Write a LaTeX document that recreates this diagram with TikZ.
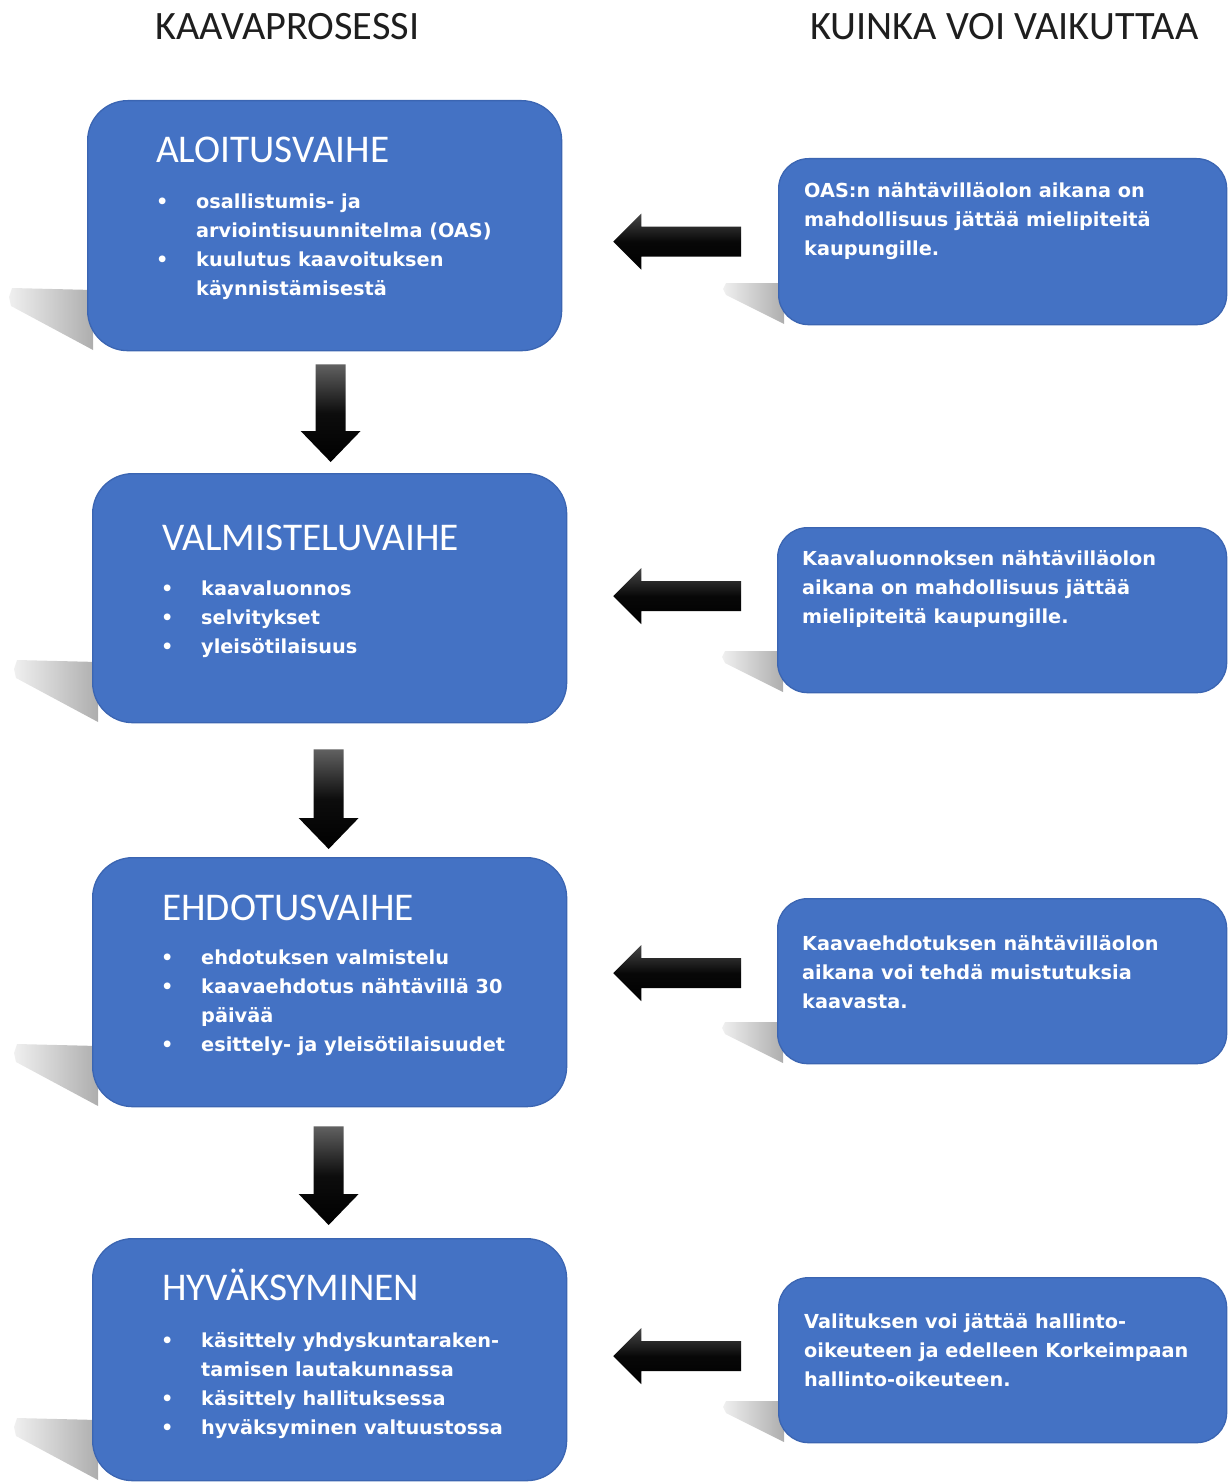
\documentclass[tikz,border=0pt]{standalone}
\usepackage{fontspec}
\setmainfont{DejaVu Sans}
\newfontfamily\headfont{Carlito}
\usetikzlibrary{calc}
\definecolor{boxblue}{HTML}{4472C4}
\definecolor{boxedge}{HTML}{3B65B2}
\definecolor{titlegray}{HTML}{1E1E1E}
\newcommand\blkdown[2]{%
 \shade[top color=black!62, bottom color=black, middle color=black!95] let \p1=(#1), \p2=(#2) in
 ({\x2-15pt},\y1) -- ({\x2+15pt},\y1) -- ({\x2+15pt},{\y2+31pt}) -- ({\x2+30pt},{\y2+31pt}) -- (\x2,\y2)
 -- ({\x2-30pt},{\y2+31pt}) -- ({\x2-15pt},{\y2+31pt}) -- cycle;}
\newcommand\blkleft[2]{%
 \shade[top color=black!72, bottom color=black, middle color=black!97] let \p1=(#1), \p2=(#2) in
 (\x1,{\y2+15pt}) -- ({\x2+28pt},{\y2+15pt}) -- ({\x2+28pt},{\y2+28pt}) -- (\x2,\y2)
 -- ({\x2+28pt},{\y2-28pt}) -- ({\x2+28pt},{\y2-15pt}) -- (\x1,{\y2-15pt}) -- cycle;}
\newcommand\shadowL[1]{%
 \shade[left color=black!6, right color=black!32] let \p1=(#1) in
 ({\x1+6pt},{\y1+60pt}) -- ({\x1-75pt},{\y1+62pt}) -- ({\x1-78pt},{\y1+53pt}) -- ({\x1-76pt},{\y1+44pt}) -- ({\x1+6pt},\y1) -- cycle;}
\newcommand\shadowR[1]{%
 \shade[left color=black!6, right color=black!32] let \p1=(#1) in
 ({\x1+6pt},{\y1+41pt}) -- ({\x1-52pt},{\y1+41pt}) -- ({\x1-55pt},{\y1+35pt}) -- ({\x1-52pt},{\y1+29pt}) -- ({\x1+6pt},\y1) -- cycle;}
\newcommand\bul{\makebox[40pt][l]{\textbullet}}
\newcommand\ind{\hspace*{40pt}}
\begin{document}
\begin{tikzpicture}[x=1pt,y=-1pt,
  box/.style={draw=boxedge, line width=1.3pt, fill=boxblue, rounded corners=40pt, anchor=north west, inner sep=0pt},
  sidebox/.style={box, rounded corners=30pt},
  head/.style={anchor=base west, inner sep=0pt, text=white, font=\headfont\fontsize{39.3}{40}\selectfont},
  title/.style={anchor=base west, inner sep=0pt, text=titlegray, font=\headfont\fontsize{40.3}{40}\selectfont},
  body/.style={anchor=base west, inner sep=0pt, text=white, align=left, font=\bfseries\fontsize{19.3}{29}\selectfont}]
\useasboundingbox (0,0) rectangle (1227,1482);
% titles
\node[title] (t1) at (155,40) {KAAVAPROSESSI};
\node[title] (t2) at (810,40) {KUINKA VOI VAIKUTTAA};
% shadows
\coordinate (s1) at (87,350);
\coordinate (s2) at (92,722);
\coordinate (s3) at (92,1106);
\coordinate (s4) at (92,1480);
\coordinate (q1) at (778,324);
\coordinate (q2) at (777,692);
\coordinate (q3) at (777,1063);
\coordinate (q4) at (778,1442);
\shadowL{s1}\shadowL{s2}\shadowL{s3}\shadowL{s4}
\shadowR{q1}\shadowR{q2}\shadowR{q3}\shadowR{q4}
% left boxes
\node[box, minimum width=474pt, minimum height=250pt] (b1) at (87,100) {};
\node[box, minimum width=474pt, minimum height=249pt] (b2) at (92,473) {};
\node[box, minimum width=474pt, minimum height=249pt] (b3) at (92,857) {};
\node[box, minimum width=474pt, minimum height=242pt] (b4) at (92,1238) {};
% right boxes
\node[sidebox, minimum width=448pt, minimum height=166pt] (r1) at (778,158) {};
\node[sidebox, minimum width=449pt, minimum height=165pt] (r2) at (777,527) {};
\node[sidebox, minimum width=449pt, minimum height=165pt] (r3) at (777,898) {};
\node[sidebox, minimum width=448pt, minimum height=165pt] (r4) at (778,1277) {};
% headings
\node[head] (h1) at (156,163) {ALOITUSVAIHE};
\node[head] (h2) at (162,550) {VALMISTELUVAIHE};
\node[head] (h3) at (162,920) {EHDOTUSVAIHE};
\node[head] (h4) at (162,1300) {HYVÄKSYMINEN};
% body lists (anchored at the baseline of the last line)
\node[body] (l1) at (156,295) {\bul osallistumis- ja\\ \ind arviointisuunnitelma (OAS)\\ \bul kuulutus kaavoituksen\\ \ind käynnistämisestä};
\node[body] (l2) at (161,653) {\bul kaavaluonnos\\ \bul selvitykset\\ \bul yleisötilaisuus};
\node[body] (l3) at (161,1051) {\bul ehdotuksen valmistelu\\ \bul kaavaehdotus nähtävillä 30\\ \ind päivää\\ \bul esittely- ja yleisötilaisuudet};
\node[body] (l4) at (161,1434) {\bul käsittely yhdyskuntaraken-\\ \ind tamisen lautakunnassa\\ \bul käsittely hallituksessa\\ \bul hyväksyminen valtuustossa};
% right texts
\node[body] (p1) at (804,255) {OAS:n nähtävilläolon aikana on\\ mahdollisuus jättää mielipiteitä\\ kaupungille.};
\node[body] (p2) at (802,623) {Kaavaluonnoksen nähtävilläolon\\ aikana on mahdollisuus jättää\\ mielipiteitä kaupungille.};
\node[body] (p3) at (802,1008) {Kaavaehdotuksen nähtävilläolon\\ aikana voi tehdä muistutuksia\\ kaavasta.};
\node[body] (p4) at (804,1386) {Valituksen voi jättää hallinto-\\ oikeuteen ja edelleen Korkeimpaan\\ hallinto-oikeuteen.};
% down arrows
\coordinate (d1s) at ($(b1.south)+(6,13)$);
\coordinate (d1e) at ($(b2.north)+(1,-11)$);
\coordinate (d2s) at ($(b2.south)+(0,26)$);
\coordinate (d2e) at ($(b3.north)+(-1,-8)$);
\coordinate (d3s) at ($(b3.south)+(0,19)$);
\coordinate (d3e) at ($(b4.north)+(-1,-13)$);
\blkdown{d1s}{d1e}\blkdown{d2s}{d2e}\blkdown{d3s}{d3e}
% left arrows
\coordinate (e1s) at ($(r1.west)+(-37,0)$);
\coordinate (e1e) at ($(b1.east |- r1.west)+(51,0)$);
\coordinate (e2s) at ($(r2.west)+(-36,-14)$);
\coordinate (e2e) at ($(b2.east |- r2.west)+(46,-14)$);
\coordinate (e3s) at ($(r3.west)+(-36,-8)$);
\coordinate (e3e) at ($(b3.east |- r3.west)+(46,-8)$);
\coordinate (e4s) at ($(r4.west)+(-37,-4)$);
\coordinate (e4e) at ($(b4.east |- r4.west)+(46,-4)$);
\blkleft{e1s}{e1e}\blkleft{e2s}{e2e}\blkleft{e3s}{e3e}\blkleft{e4s}{e4e}
\end{tikzpicture}
\end{document}
